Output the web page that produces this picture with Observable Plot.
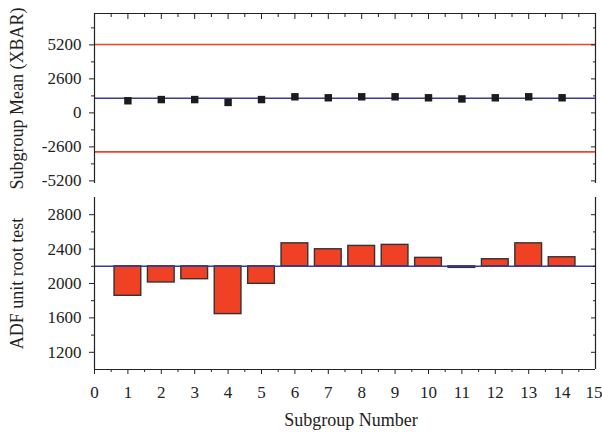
<!DOCTYPE html>
<html>
<head>
<meta charset="utf-8">
<script src="https://cdn.jsdelivr.net/npm/d3@7"></script>
<script src="https://cdn.jsdelivr.net/npm/@observablehq/plot@0.6"></script>
<style>
  html, body { margin: 0; padding: 0; background: #fff; }
  #chart svg { display: block; }
</style>
</head>
<body>
<div id="chart"></div>
<script>
// ---- data ----
const subgroups = [1, 2, 3, 4, 5, 6, 7, 8, 9, 10, 11, 12, 13, 14];
const xbarValues = [927, 1018, 1018, 800, 1018, 1231, 1155, 1231, 1231, 1155, 1066, 1155, 1231, 1155];
const xbarCenter = 1120;
const xbarUCL = 5230;
const xbarLCL = -2980;
const adfValues = [1857, 2012, 2050, 1644, 1996, 2467, 2398, 2437, 2449, 2298, 2182, 2282, 2467, 2305];
const adfCenter = 2200;

const xTicks = [0, 1, 2, 3, 4, 5, 6, 7, 8, 9, 10, 11, 12, 13, 14, 15];
const xMinorTicks = [0.5, 1.5, 2.5, 3.5, 4.5, 5.5, 6.5, 7.5, 8.5, 9.5, 10.5, 11.5, 12.5, 13.5, 14.5];
const topTicks = [-5200, -2600, 0, 2600, 5200];
const topMinorTicks = [-3900, -1300, 1300, 3900, 6500];
const topDomain = [-5400, 7600];
const bottomTicks = [1200, 1600, 2000, 2400, 2800];
const bottomMinorTicks = [1400, 1800, 2200, 2600];
const bottomDomain = [1000, 3000];
const barHalfWidth = 0.4;

const topLabel = "Subgroup Mean (XBAR)";
const bottomLabel = "ADF unit root test";
const xLabel = "Subgroup Number";

const xbarData = subgroups.map((g, i) => ({g, v: xbarValues[i]}));
const adfData = subgroups.map((g, i) => ({g, x1: g - barHalfWidth, x2: g + barHalfWidth, base: adfCenter, v: adfValues[i]}));

const FONT = "'Liberation Serif', 'Times New Roman', serif";
const INK = "#222";
const RED = "#f0442a";
const BLUE = "#3a3a98";
const noText = () => "";
const plain = d => String(d);
const LABEL_SIZE = 18;
const xFirst = xTicks.slice(0, -1);
const xLast = xTicks.slice(-1);

const common = {
  width: 602,
  marginLeft: 94,
  marginRight: 7,
  style: {fontFamily: FONT, fontSize: "17px", color: INK, background: "white", overflow: "visible"},
  x: {domain: [xTicks[0], xTicks[xTicks.length - 1]]}
};

const topChart = Plot.plot({
  ...common,
  height: 190,
  marginTop: 13,
  marginBottom: 7,
  y: {domain: topDomain},
  marks: [
    Plot.ruleY([xbarUCL, xbarLCL], {stroke: RED, strokeWidth: 1.6}),
    Plot.ruleY([xbarCenter], {stroke: BLUE, strokeWidth: 1.6}),
    Plot.dot(xbarData, {x: "g", y: "v", symbol: "square", r: 4.2, fill: "#1c1c1c", stroke: null}),
    Plot.ruleX([xTicks[0], xTicks[xTicks.length - 1]], {stroke: INK, strokeWidth: 1.2}),
    Plot.ruleY([topDomain[1]], {stroke: INK, strokeWidth: 1.2}),
    Plot.axisY({ticks: topTicks, tickSize: 5, tickPadding: 8, tickFormat: plain, label: null, fontSize: 17}),
    Plot.axisY({ticks: topMinorTicks, tickSize: 3, tickFormat: noText, label: null}),
    Plot.axisY({anchor: "right", ticks: topTicks, tickSize: -5, tickFormat: noText, label: null}),
    Plot.axisY({anchor: "right", ticks: topMinorTicks, tickSize: -3, tickFormat: noText, label: null}),
    Plot.axisX({anchor: "top", ticks: xTicks, tickSize: -5, tickFormat: noText, label: null}),
    Plot.axisX({anchor: "top", ticks: xMinorTicks, tickSize: -3, tickFormat: noText, label: null}),
    Plot.text([topLabel], {text: d => d, frameAnchor: "left", textAnchor: "middle", dx: -77, rotate: -90, fontSize: LABEL_SIZE, fill: INK})
  ]
});

const bottomChart = Plot.plot({
  ...common,
  height: 242,
  marginTop: 7,
  marginBottom: 63,
  y: {domain: bottomDomain},
  marks: [
    Plot.rect(adfData, {x1: "x1", x2: "x2", y1: "base", y2: "v", fill: "#f04124", stroke: "#333", strokeWidth: 1.4}),
    Plot.ruleY([adfCenter], {stroke: BLUE, strokeWidth: 1.6}),
    Plot.ruleX([xTicks[0], xTicks[xTicks.length - 1]], {stroke: INK, strokeWidth: 1.2}),
    Plot.ruleY([bottomDomain[0]], {stroke: INK, strokeWidth: 1.2}),
    Plot.axisY({ticks: bottomTicks, tickSize: 5, tickPadding: 8, tickFormat: plain, label: null, fontSize: 17}),
    Plot.axisY({ticks: bottomMinorTicks, tickSize: 3, tickFormat: noText, label: null}),
    Plot.axisY({anchor: "right", ticks: bottomTicks, tickSize: -5, tickFormat: noText, label: null}),
    Plot.axisY({anchor: "right", ticks: bottomMinorTicks, tickSize: -3, tickFormat: noText, label: null}),
    Plot.axisX({ticks: xFirst, tickSize: 5, tickPadding: 11, tickFormat: plain, label: null, fontSize: 17}),
    Plot.axisX({ticks: xLast, tickSize: 5, tickPadding: 11, tickFormat: plain, label: null, fontSize: 17, textAnchor: "end", dx: 7}),
    Plot.axisX({ticks: xMinorTicks, tickSize: 3, tickFormat: noText, label: null}),
    Plot.text([bottomLabel], {text: d => d, frameAnchor: "left", textAnchor: "middle", dx: -77, rotate: -90, fontSize: LABEL_SIZE, fill: INK}),
    Plot.text([xLabel], {text: d => d, frameAnchor: "bottom", dx: 6, dy: 56, fontSize: LABEL_SIZE, fill: INK})
  ]
});

document.getElementById("chart").append(topChart, bottomChart);
</script>
</body>
</html>
